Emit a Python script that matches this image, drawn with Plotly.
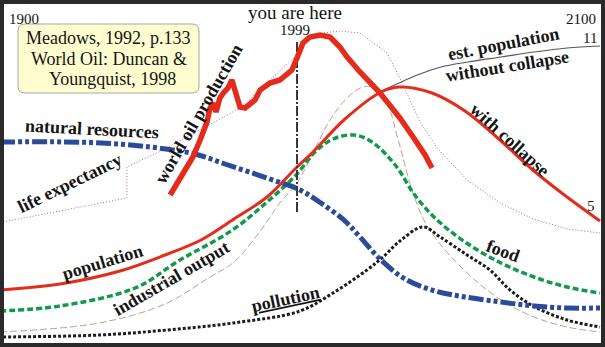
import plotly.graph_objects as go

# ---- World3 standard run (Meadows 1992) with world oil production overlay ----
# x: calendar year, y: relative level (arbitrary index, 0 = bottom of frame)

res_year = [1900, 1930, 1950, 1965, 1975, 1990, 2000, 2007, 2015, 2020, 2027, 2035, 2045, 2055, 2067, 2078, 2089, 2100]
res_level = [205, 204.5, 200, 193, 183, 168, 157, 144, 126, 110, 87, 68, 56, 50, 45, 41, 39, 39]

pop_year = [1900, 1920, 1940, 1955, 1967, 1978, 1989, 1999, 2004, 2015, 2027, 2033, 2044, 2055, 2067, 2078, 2089, 2100]
pop_level = [57, 63, 76, 92, 107, 128, 150, 180, 194, 228, 255, 260, 254, 236, 206, 176, 150, 126]

est_year = [1980, 1989, 1999, 2004, 2015, 2027, 2033, 2040, 2047, 2056, 2067, 2078, 2089, 2100]
est_level = [132, 150, 180, 194, 228, 255, 264, 273, 280, 285, 290, 295, 299, 301]

ind_year = [1900, 1920, 1945, 1960, 1977, 1989, 1999, 2005, 2011, 2018, 2024, 2032, 2038, 2045, 2055, 2067, 2078, 2089, 2100]
ind_level = [36, 41, 59, 87, 116, 145, 173, 195, 208, 212, 205, 181, 153, 129, 105, 84, 70, 60, 54]

svc_year = [1900, 1933, 1955, 1970, 1978, 1987, 1993, 1999, 2004, 2010, 2016, 2021, 2025, 2029, 2033, 2038, 2043, 2055, 2067, 2078, 2089, 2100]
svc_level = [15, 24, 43, 70, 85, 117, 143, 164, 192, 227, 250, 260, 259, 244, 204, 151, 118, 76, 47, 30, 20, 15]

life_year = [1901, 1942.3, 1942.3, 1954.3, 1980, 1999, 2003.3, 2007.7, 2013.3, 2020, 2029, 2033.3, 2040, 2045.7, 2055.7, 2066.7, 2077.7, 2089, 2100]
life_level = [125, 149, 180, 197, 239, 292, 309, 314, 316, 314, 294, 269, 225, 199, 167, 144, 128, 118, 114]

oil_year = [1956.7, 1961, 1964.3, 1966.7, 1969, 1970, 1971, 1972, 1973.3, 1974.7, 1976, 1977.3, 1978.7,
            1980, 1981.7, 1983.3, 1985, 1986.7, 1988.3, 1990, 1993.3, 1995.7, 1997.3, 1999, 2001,
            2003.3, 2006.7, 2010, 2013.3, 2015.7, 2020, 2026.7, 2033.3, 2037.7, 2041.7, 2044]
oil_level = [152, 175, 190, 207, 225, 239, 244, 235, 249, 255, 259, 267, 254,
             240, 239, 243, 247, 257, 261, 264, 267, 272, 277, 289, 304,
             310, 312, 310, 300, 290, 275, 254, 229, 210, 192, 179]

pol_year = [1901, 1933.3, 1955.7, 1977.7, 2000, 2011, 2022.3, 2027.7, 2033.3, 2041, 2046.7, 2055.7, 2063.3, 2070, 2077.7, 2089, 2100]
pol_level = [10, 12, 17, 24, 36, 54, 77, 90, 106, 120, 110, 92, 77, 57, 41, 27, 20]

now_year = 1999
now_span = [135, 307]

start_label, end_label = "1900", "2100"
pop_end_labels = ["11", "5"]   # billions, without / with collapse
source_lines = ["Meadows, 1992, p.133", "World Oil: Duncan &", "Youngquist, 1998"]

RED = "#E42C1C"
BLUE = "#2B4A9C"
GREEN = "#109A4A"

fig = go.Figure()

def add_line(x, y, color, width, dash="solid", shape="spline"):
    fig.add_trace(go.Scatter(x=x, y=y, mode="lines", hoverinfo="skip",
                             line=dict(color=color, width=width, dash=dash, shape=shape)))

add_line(svc_year, svc_level, "#B5A595", 1, "7px,3px")
add_line(life_year, life_level, "#B0609A", 1, "1px,2px", "linear")
add_line(est_year, est_level, "#555555", 1.2)
add_line(pol_year, pol_level, "#1C1C1C", 3, "3px,2px")
add_line(ind_year, ind_level, GREEN, 3.5, "6px,3px")
add_line(res_year, res_level, BLUE, 5, "15px,3px,4px,3px,4px,3px")
add_line(pop_year, pop_level, RED, 3)
add_line([now_year, now_year], now_span, "#3A3A3A", 2, "10px,2px,2px,2px", "linear")
add_line(oil_year, oil_level, RED, 5.5, "solid", "linear")

serif = "Liberation Serif, Times New Roman, Times, serif"
ann = []

def label(text, x, y, angle=0, size=18, bold=True, **kw):
    ann.append(dict(text=text, x=x, y=y, xref="x", yref="y", showarrow=False,
                    textangle=angle, xanchor=kw.pop("xanchor", "center"),
                    yanchor=kw.pop("yanchor", "middle"),
                    font=dict(family=serif, size=size, color="#151515",
                              weight="bold" if bold else "normal"), **kw))

label("natural resources", 1930.7, 218, 3)
label("life expectancy", 1923.3, 164, -26)
label("world oil production", 1966.2, 233, -60)
label("est. population", 2067.7, 303, -11)
label("without collapse", 2069.3, 281, -9)
label("with collapse", 2070, 207, 42)
label("population", 1934.3, 85, -17)
label("industrial output", 1957.3, 69, -30)
label("<u>pollution</u>", 1995.3, 48, -12)
label("food", 2067.7, 96, 20)

label("you are here", 1998.3, 335, 0, 19, False)
label(str(now_year), now_year - 0.7, 317, 0, 15, False)
label(start_label, 1902.3, 328, 0, 15, False, xanchor="left")
label(end_label, 2099.3, 328, 0, 15, False, xanchor="right")
label(pop_end_labels[0], est_year[-1], est_level[-1], 0, 15, False,
      xanchor="right", xshift=-1, yshift=8)
label(pop_end_labels[1], pop_year[-1], pop_level[-1], 0, 15, False,
      xanchor="right", xshift=-3, yshift=15)

for i, line in enumerate(source_lines):
    label(line, 1936.3 + (1.3 if i == 2 else 0), 309 - 20.5 * i, 0, 18, False)

W, H = 605, 347

# rounded note box (paper coordinates)
bx0, bx1 = 18 / W, 199 / W
by1, by0 = 1 - 24 / H, 1 - 93 / H
rx, ry = 7 / W, 7 / H
box_path = (f"M {bx0+rx},{by1} L {bx1-rx},{by1} Q {bx1},{by1} {bx1},{by1-ry} "
            f"L {bx1},{by0+ry} Q {bx1},{by0} {bx1-rx},{by0} L {bx0+rx},{by0} "
            f"Q {bx0},{by0} {bx0},{by0+ry} L {bx0},{by1-ry} Q {bx0},{by1} {bx0+rx},{by1} Z")

shapes = [
    dict(type="path", path=box_path, xref="paper", yref="paper",
         fillcolor="#FEFDCF", line=dict(color="#A8A8A0", width=1), layer="above"),
    dict(type="rect", xref="paper", yref="paper", x0=2 / W, x1=1 - 2 / W, y0=2 / H, y1=1 - 2 / H,
         line=dict(color="#2A2A2A", width=4), fillcolor="rgba(0,0,0,0)", layer="above"),
]

fig.update_layout(
    width=W, height=H, margin=dict(l=0, r=0, t=0, b=0),
    paper_bgcolor="white", plot_bgcolor="white", showlegend=False,
    font=dict(family=serif),
    xaxis=dict(range=[1900, 1900 + W / 3], visible=False, fixedrange=True),
    yaxis=dict(range=[0, H], visible=False, fixedrange=True),
    annotations=ann, shapes=shapes,
)

fig.write_html("out.html")
